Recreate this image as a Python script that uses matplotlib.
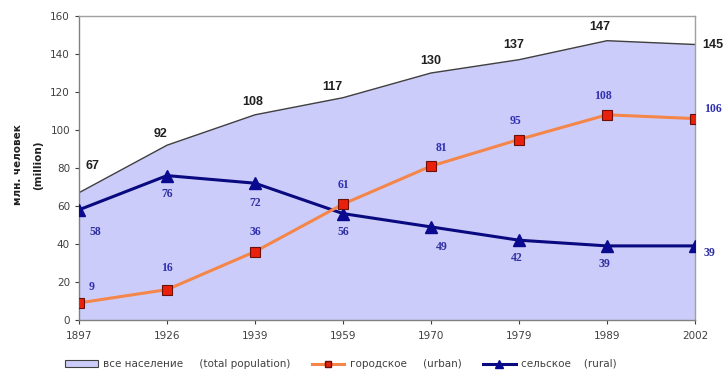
import matplotlib
matplotlib.use("Agg")
import matplotlib.pyplot as plt
import matplotlib.patches as patches
from matplotlib.lines import Line2D
import numpy as np

years = ["1897", "1926", "1939", "1959", "1970", "1979", "1989", "2002"]
total = [67, 92, 108, 117, 130, 137, 147, 145]
urban = [9, 16, 36, 61, 81, 95, 108, 106]
rural = [58, 76, 72, 56, 49, 42, 39, 39]

# label offsets in pixels (dx, dy)
total_off = [(13, 27), (-7, 11), (-2, 13), (-11, 11), (0, 12), (-5, 15), (-7, 14), (7, 0)]
urban_off = [(13, 16), (0, 22), (0, 20), (0, 19), (10, 18), (-3, 19), (-4, 19), (9, 10)]
rural_off = [(16, -22), (0, -18), (0, -20), (0, -18), (11, -20), (-2, -18), (-3, -18), (9, -7)]

plt.rcParams["font.family"] = ["DejaVu Sans"]

fig = plt.figure(figsize=(7.24, 3.71), dpi=100)
ax = fig.add_axes([79 / 724, 1 - 320 / 371, (695 - 79) / 724, (320 - 16) / 371])

x = np.arange(len(years))
fill_c = "#CCCCFA"
urban_c = "#F5864A"
rural_c = "#0A0A80"
ax.fill_between(x, 0, total, color=fill_c, zorder=1)
ax.plot(x, total, color="#404040", lw=1.0, zorder=2)
ax.plot(x, urban, color=urban_c, lw=2.2, marker="s", ms=7.5,
        mfc="#E8200C", mec="#6A1008", mew=0.8, zorder=4)
ax.plot(x, rural, color=rural_c, lw=2.2, marker="^", ms=8.5,
        mfc="#0A0A90", mec="#0A0A90", zorder=3)

sans = ["Liberation Sans", "DejaVu Sans"]
serif = ["Liberation Serif", "DejaVu Serif"]
px = 0.72  # points per pixel
for i in range(len(years)):
    ha = "left" if i == len(years) - 1 else "center"
    dx, dy = total_off[i]
    ax.annotate(str(total[i]), (x[i], total[i]), xytext=(dx * px, dy * px),
                textcoords="offset points", ha=ha, va="center", fontsize=9,
                fontweight="bold", color="#202020", family=sans,
                annotation_clip=False, zorder=6)
    dx, dy = urban_off[i]
    ax.annotate(str(urban[i]), (x[i], urban[i]), xytext=(dx * px, dy * px),
                textcoords="offset points", ha=ha, va="center", fontsize=8.5,
                fontweight="bold", color="#3030B0", family=serif,
                annotation_clip=False, zorder=6)
    dx, dy = rural_off[i]
    ax.annotate(str(rural[i]), (x[i], rural[i]), xytext=(dx * px, dy * px),
                textcoords="offset points", ha=ha, va="center", fontsize=8.5,
                fontweight="bold", color="#3030A0", family=serif,
                annotation_clip=False, zorder=6)

ax.set_xlim(0, len(years) - 1)
ax.set_ylim(0, 160)
ax.set_yticks(range(0, 161, 20))
ax.set_xticks(x)
ax.set_xticklabels(years)
ax.tick_params(axis="both", labelsize=7.5, colors="#404040", length=3, width=0.8)
ax.tick_params(axis="x", pad=5)
for s in ax.spines.values():
    s.set_color("#A0A0A0")
    s.set_linewidth(1)
ax.spines["left"].set_color("#808080")
ax.spines["bottom"].set_color("#808080")

fig.text(18 / 724, 1 - 165 / 371, "млн. человек", rotation=90, ha="center",
         va="center", fontsize=7.5, fontweight="bold", color="#202020")
fig.text(38 / 724, 1 - 165 / 371, "(million)", rotation=90, ha="center",
         va="center", fontsize=7.5, fontweight="bold", color="#202020")

handles = [
    patches.Patch(facecolor=fill_c, edgecolor="#404040", lw=0.8),
    Line2D([], [], color=urban_c, lw=2.2, marker="s", ms=5, mfc="#E8200C", mec="#6A1008"),
    Line2D([], [], color=rural_c, lw=2.2, marker="^", ms=6, mfc="#0A0A90", mec="#0A0A90"),
]
labels = ["все население     (total population)", "городское     (urban)", "сельское    (rural)"]
leg = fig.legend(handles, labels, loc="center left", bbox_to_anchor=(56 / 724, 1 - 364 / 371),
                 ncol=3, frameon=False, fontsize=7.5, handlelength=3.1,
                 columnspacing=2.1, handletextpad=0.5, handleheight=0.6)
for t in leg.get_texts():
    t.set_color("#404040")

fig.savefig("out.png", dpi=100)
